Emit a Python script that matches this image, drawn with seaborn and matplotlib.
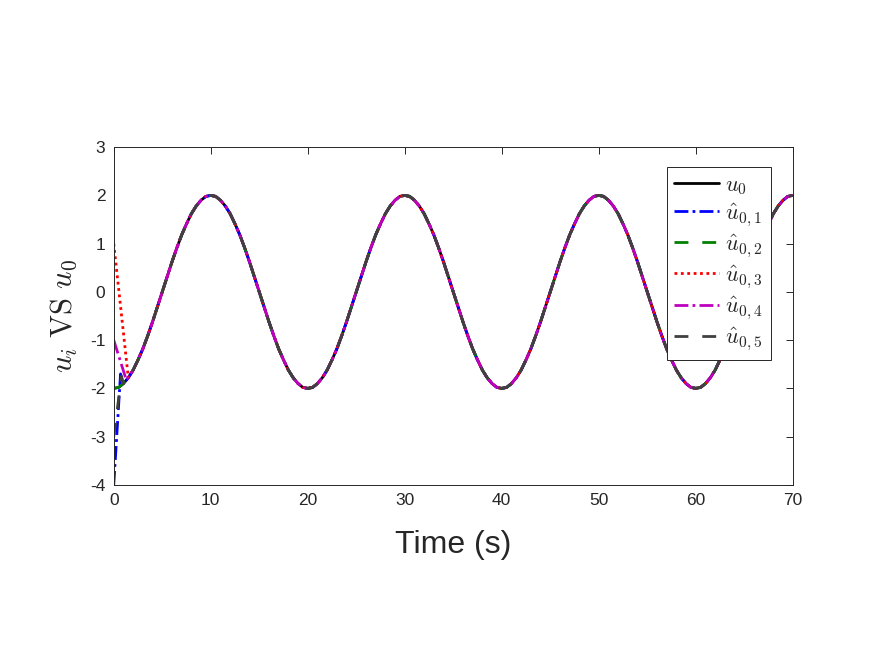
import numpy as np
import pandas as pd
import matplotlib
matplotlib.use('Agg')
import matplotlib.pyplot as plt
import seaborn as sns

time = [k * 0.5 for k in range(141)]
u0 = [-2.00, -1.98, -1.90, -1.78, -1.62, -1.41, -1.18, -0.91, -0.62, -0.31,
      0.00, 0.31, 0.62, 0.91, 1.18, 1.41, 1.62, 1.78, 1.90, 1.98,
      2.00, 1.98, 1.90, 1.78, 1.62, 1.41, 1.18, 0.91, 0.62, 0.31,
      0.00, -0.31, -0.62, -0.91, -1.18, -1.41, -1.62, -1.78, -1.90, -1.98,
      -2.00, -1.98, -1.90, -1.78, -1.62, -1.41, -1.18, -0.91, -0.62, -0.31,
      0.00, 0.31, 0.62, 0.91, 1.18, 1.41, 1.62, 1.78, 1.90, 1.98,
      2.00, 1.98, 1.90, 1.78, 1.62, 1.41, 1.18, 0.91, 0.62, 0.31,
      0.00, -0.31, -0.62, -0.91, -1.18, -1.41, -1.62, -1.78, -1.90, -1.98,
      -2.00, -1.98, -1.90, -1.78, -1.62, -1.41, -1.18, -0.91, -0.62, -0.31,
      0.00, 0.31, 0.62, 0.91, 1.18, 1.41, 1.62, 1.78, 1.90, 1.98,
      2.00, 1.98, 1.90, 1.78, 1.62, 1.41, 1.18, 0.91, 0.62, 0.31,
      0.00, -0.31, -0.62, -0.91, -1.18, -1.41, -1.62, -1.78, -1.90, -1.98,
      -2.00, -1.98, -1.90, -1.78, -1.62, -1.41, -1.18, -0.91, -0.62, -0.31,
      0.00, 0.31, 0.62, 0.91, 1.18, 1.41, 1.62, 1.78, 1.90, 1.98,
      2.00]

# initial transients of the estimates (before they join u0)
head_t = {1: [0, 0.7], 2: [0], 3: [0, 1.5], 4: [0, 1.3], 5: [0, 0.8]}
head_v = {1: [-4.0, -1.70], 2: [-2.0], 3: [1.0, -1.78], 4: [-1.0, -1.83], 5: [-3.0, -1.75]}
join_at = {1: 2, 2: 1, 3: 4, 4: 3, 5: 2}  # index into time/u0

labels = ['$u_0$', r'$\hat{u}_{0,1}$', r'$\hat{u}_{0,2}$', r'$\hat{u}_{0,3}$',
          r'$\hat{u}_{0,4}$', r'$\hat{u}_{0,5}$']
colors = ['black', 'blue', (0, 0.5, 0), 'red', (0.75, 0, 0.75), (0.25, 0.25, 0.25)]
styles = ['-', (0, (5, 1.5, 1, 1.5)), (0, (5, 5)), (0, (1, 1.3)),
          (0, (5, 1.5, 1, 1.5)), (0, (5, 5))]

sns.set_style('white')
plt.rcParams['font.family'] = ['Liberation Sans', 'DejaVu Sans']
plt.rcParams['mathtext.fontset'] = 'cm'
plt.rcParams['axes.unicode_minus'] = False

fig = plt.figure(figsize=(8.75, 6.57), dpi=100)
ax = fig.add_axes([0.130, 0.262, 0.776, 0.514])

for i in range(6):
    if i == 0:
        t, v = time, u0
    else:
        j = join_at[i]
        t = head_t[i] + time[j:]
        v = head_v[i] + u0[j:]
    df = pd.DataFrame({'t': t, 'v': v})
    sns.lineplot(data=df, x='t', y='v', color=colors[i], linestyle=styles[i],
                 lw=2, label=labels[i], ax=ax, sort=False)

ax.set_xlim(0, 70)
ax.set_ylim(-4, 3)
ax.set_xticks(range(0, 71, 10))
ax.set_yticks(range(-4, 4))
ax.tick_params(direction='in', length=5, width=0.7, labelsize=12.5,
               colors=(0.15, 0.15, 0.15), top=True, right=True, pad=6)
for s in ax.spines.values():
    s.set_color((0.15, 0.15, 0.15))
    s.set_linewidth(0.7)

ax.set_xlabel('Time (s)', fontsize=23, color=(0.15, 0.15, 0.15), labelpad=16)
ax.set_ylabel(r'$u_i\ \mathrm{VS}\ u_0$', fontsize=22, color=(0.15, 0.15, 0.15),
              labelpad=8)

leg = ax.legend(loc='upper right', bbox_to_anchor=(0.968, 0.941), fontsize=16,
                handlelength=2.0, labelspacing=0.2, borderaxespad=0,
                fancybox=False, framealpha=1, edgecolor=(0.15, 0.15, 0.15),
                borderpad=0.35, handletextpad=0.3)
leg.get_frame().set_linewidth(0.7)

fig.savefig('out.png', dpi=100)
